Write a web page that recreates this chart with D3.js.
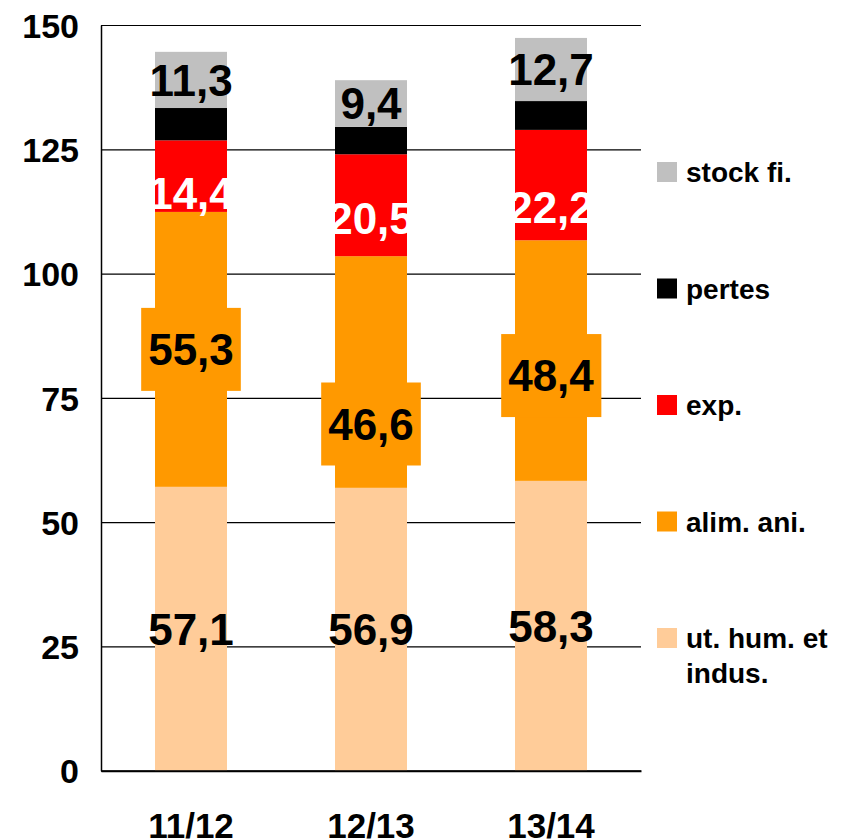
<!DOCTYPE html>
<html>
<head>
<meta charset="utf-8">
<script src="https://cdn.jsdelivr.net/npm/d3@7"></script>
<style>
  body { margin: 0; background: #fff; }
  svg { display: block; font-family: "Liberation Sans", Arial, sans-serif; font-weight: bold; }
</style>
</head>
<body>
<svg id="chart" width="843" height="840"></svg>
<script>
const categories = ['11/12', '12/13', '13/14'];
const utHum = [57.1, 56.9, 58.3];
const alimAni = [55.3, 46.6, 48.4];
const exportations = [14.4, 20.5, 22.2];
const pertes = [6.5, 5.5, 5.8];
const stockFi = [11.3, 9.4, 12.7];
const yTicks = [0, 25, 50, 75, 100, 125, 150];

const seriesKeys = ['ut', 'alim', 'exp', 'pertes', 'stock'];
const seriesNames = { ut: 'ut. hum. et indus.', alim: 'alim. ani.', exp: 'exp.', pertes: 'pertes', stock: 'stock fi.' };
const colors = { ut: '#FFCC99', alim: '#FF9900', exp: '#FF0000', pertes: '#000000', stock: '#C0C0C0' };

const rows = categories.map((c, i) => ({
  cat: c, ut: utHum[i], alim: alimAni[i], exp: exportations[i], pertes: pertes[i], stock: stockFi[i]
}));

const svg = d3.select('#chart');
const plotLeft = 101, plotRight = 641, plotTop = 25, plotBottom = 770.7;

const x = d3.scaleBand().domain(categories).range([plotLeft, plotRight]).paddingInner(0.6).paddingOuter(0.3);
const y = d3.scaleLinear().domain([0, 150]).range([plotBottom, plotTop]);

// grid + y axis
const yAxis = svg.append('g')
  .attr('transform', `translate(${plotLeft},0)`)
  .call(d3.axisLeft(y).tickValues(yTicks).tickSizeInner(-(plotRight - plotLeft)).tickSizeOuter(0).tickPadding(22));
yAxis.select('.domain').attr('stroke', '#000').attr('stroke-width', 1.5);
yAxis.selectAll('.tick line').attr('stroke', '#000').attr('stroke-width', 1.2);
yAxis.selectAll('.tick text')
  .attr('dy', '0.36em')
  .style('font-size', '34px').style('font-family', '"Liberation Sans", Arial, sans-serif')
  .style('font-weight', 'bold').attr('fill', '#000');

const stacked = d3.stack().keys(seriesKeys)(rows);

// bars
const layers = svg.append('g').selectAll('g')
  .data(stacked).enter().append('g')
  .attr('fill', d => colors[d.key]);

layers.selectAll('rect')
  .data(d => d)
  .enter().append('rect')
  .attr('x', d => x(d.data.cat))
  .attr('width', x.bandwidth())
  .attr('y', d => y(d[1]))
  .attr('height', d => y(d[0]) - y(d[1]));

// x axis
const xAxis = svg.append('g')
  .attr('transform', `translate(0,${plotBottom})`)
  .call(d3.axisBottom(x).tickSize(0).tickPadding(42));
xAxis.select('.domain').attr('stroke', '#000').attr('stroke-width', 2);
xAxis.selectAll('.tick text')
  .style('font-size', '35px').style('font-family', '"Liberation Sans", Arial, sans-serif')
  .style('font-weight', 'bold').attr('fill', '#000');

// data labels (pixel nudges where the original labels were moved by hand)
const labelNudge = { exp: [17, 13, 22], alim: [0, 52, 15] };
const labelColor = { ut: '#000', alim: '#000', exp: '#fff', stock: '#000' };
const fmt = v => d3.format('.1f')(v).replace('.', ',');

stacked.filter(s => s.key !== 'pertes').forEach(s => {
  s.forEach((d, i) => {
    const cx = x(d.data.cat) + x.bandwidth() / 2;
    const cy = (y(d[0]) + y(d[1])) / 2 + (labelNudge[s.key] ? labelNudge[s.key][i] : 0);
    const g = svg.append('g');
    const t = g.append('text')
      .attr('x', cx).attr('y', cy).attr('dy', '0.36em')
      .attr('text-anchor', 'middle')
      .style('font-size', '44px')
      .attr('fill', labelColor[s.key])
      .text(fmt(d.data[s.key]));
    if (s.key === 'alim') {
      const bb = t.node().getBBox();
      g.insert('rect', 'text')
        .attr('x', bb.x - 7).attr('width', bb.width + 14)
        .attr('y', cy - 41.5).attr('height', 83)
        .attr('fill', colors.alim);
    }
  });
});

// legend
const legendOrder = ['stock', 'pertes', 'exp', 'alim', 'ut'];
const legendY = d3.scalePoint().domain(legendOrder).range([172, 638]);
const legend = svg.append('g').selectAll('g')
  .data(legendOrder).enter().append('g')
  .attr('transform', k => `translate(657,${legendY(k)})`);
legend.append('rect')
  .attr('x', 0).attr('y', -10).attr('width', 20).attr('height', 20)
  .attr('fill', k => colors[k]);
legend.append('text')
  .attr('x', 29).attr('y', 10)
  .style('font-size', '28px')
  .attr('fill', '#000')
  .each(function (k) {
    const words = k === 'ut' ? ['ut. hum. et', 'indus.'] : [seriesNames[k]];
    words.forEach((w, j) => {
      d3.select(this).append('tspan').attr('x', 29).attr('dy', j === 0 ? 0 : 35).text(w);
    });
  });
</script>
</body>
</html>
